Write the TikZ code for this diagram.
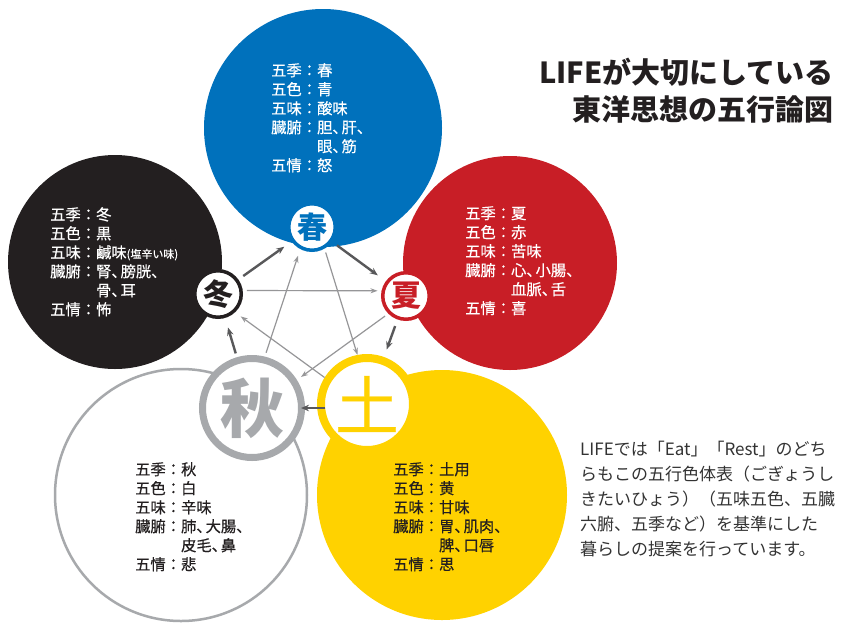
\documentclass[tikz,border=0pt]{standalone}
\usepackage{fontspec}
\newfontfamily\jp{Noto Sans CJK JP}
\newfontfamily\jpm{Noto Sans CJK JP}[FakeBold=0.4]
\usetikzlibrary{arrows.meta}
\definecolor{cblue}{RGB}{0,113,188}
\definecolor{cred}{RGB}{200,30,38}
\definecolor{cyellow}{RGB}{255,210,0}
\definecolor{cblack}{RGB}{35,31,32}
\definecolor{cgray}{RGB}{167,169,172}
\definecolor{arrdark}{RGB}{88,88,90}
\definecolor{arrlight}{RGB}{150,150,152}
\definecolor{txtdark}{RGB}{35,31,32}
\definecolor{paragc}{RGB}{51,51,51}
\newcommand{\tc}{、\kern-0.4em}
\begin{document}
\begin{tikzpicture}[x=1pt,y=-1pt,
  info/.style={anchor=north west, inner sep=0pt, align=left,
    font=\jpm\fontsize{15.3pt}{19pt}\selectfont},
  smallc/.style={circle, fill=white, line width=3.5pt, minimum size=46.5pt,
    inner sep=0pt, font=\jp\bfseries\fontsize{30pt}{30pt}\selectfont},
  genarrow/.style={draw=arrdark, line width=2.4pt, -{Stealth[length=8pt,width=6.5pt]}},
  ctrlarrow/.style={draw=arrlight, line width=1.2pt, -{Stealth[length=7pt,width=5pt]}}]
\useasboundingbox (0,0) rectangle (844,630);
\fill[white] (0,0) rectangle (844,630);
% big circles
\fill[cblue] (323,128) circle[radius=119pt];
\fill[cblack] (115,262) circle[radius=107pt];
\fill[cred] (510,263) circle[radius=107pt];
\draw[cgray, line width=2.5pt, fill=white] (181,495) circle[radius=126pt];
\fill[cyellow] (442,495) circle[radius=125pt];
% info texts
\node[info, text=white] (tblue) at (271,63) {五季：春\\五色：青\\五味：酸味\\臓腑：胆\tc 肝\tc\\\hspace*{3em}眼\tc 筋\\五情：怒};
\node[info, text=white] (tblack) at (50,207) {五季：冬\\五色：黒\\五味：鹹味{\fontsize{11pt}{11pt}\selectfont(塩辛い味)}\\臓腑：腎\tc 膀胱\tc\\\hspace*{3em}骨\tc 耳\\五情：怖};
\node[info, text=white] (tred) at (465,206) {五季：夏\\五色：赤\\五味：苦味\\臓腑：心\tc 小腸\tc\\\hspace*{3em}血脈\tc 舌\\五情：喜};
\node[info, text=txtdark] (twhite) at (135,462) {五季：秋\\五色：白\\五味：辛味\\臓腑：肺\tc 大腸\tc\\\hspace*{3em}皮毛\tc 鼻\\五情：悲};
\node[info, text=txtdark] (tyellow) at (393,462) {五季：土用\\五色：黄\\五味：甘味\\臓腑：胃\tc 肌肉\tc\\\hspace*{3em}脾\tc 口唇\\五情：思};
% element nodes
\node[smallc, draw=cblue, text=cblue] (chun) at (312,227) {春};
\node[smallc, draw=cred, text=cred] (xia) at (406,296) {夏};
\node[smallc, draw=cblack, text=cblack] (dong) at (218,294) {冬};
\node[circle, fill=white, draw=cgray, line width=7pt, minimum size=99pt, inner sep=0pt,
  text=cgray, font=\jp\bfseries\fontsize{64pt}{64pt}\selectfont] (qiu) at (252,408) {秋};
\node[circle, fill=white, draw=cyellow, line width=8pt, minimum size=92pt, inner sep=0pt,
  text=cyellow, font=\jpm\fontsize{64pt}{64pt}\selectfont] (tu) at (367,404) {土};
% generating cycle
\draw[genarrow, shorten <=6pt, shorten >=9pt] (dong) -- (chun);
\draw[genarrow, shorten <=6pt, shorten >=10pt] (chun) -- (xia);
\draw[genarrow, shorten <=7pt, shorten >=8pt] (xia) -- (tu);
\draw[genarrow] ([xshift=8pt,yshift=-4pt]tu.west) -- ([xshift=-4pt]qiu.east);
\draw[genarrow, shorten <=4pt, shorten >=10pt] (qiu) -- (dong);
% controlling cycle
\draw[ctrlarrow, shorten <=4pt, shorten >=4pt] (dong.8) -- (xia.168);
\draw[ctrlarrow, shorten <=4pt] (chun.-60) -- (tu.101);
\draw[ctrlarrow, shorten <=4pt, shorten >=5pt] (xia.-135) -- (qiu.32);
\draw[ctrlarrow, shorten >=7pt] (tu.148) -- (dong.-47);
\draw[ctrlarrow, shorten <=4pt, shorten >=7pt] (qiu.76) -- (chun.-118);
% title and description
\node[anchor=north east, align=right, inner sep=0pt, text=cblack,
  font=\jp\bfseries\fontsize{29pt}{37pt}\selectfont] (title) at (834,58) {LIFEが大切にしている\\東洋思想の五行論図};
\node[anchor=north west, align=left, inner sep=0pt, text=paragc,
  font=\jp\fontsize{17pt}{25pt}\selectfont] (para) at (580,441) {LIFEでは「Eat」「Rest」のどち\\らもこの五行色体表（ごぎょうし\\きたいひょう）（五味五色、五臓\\六腑、五季など）を基準にした\\暮らしの提案を行っています。};
\end{tikzpicture}
\end{document}
